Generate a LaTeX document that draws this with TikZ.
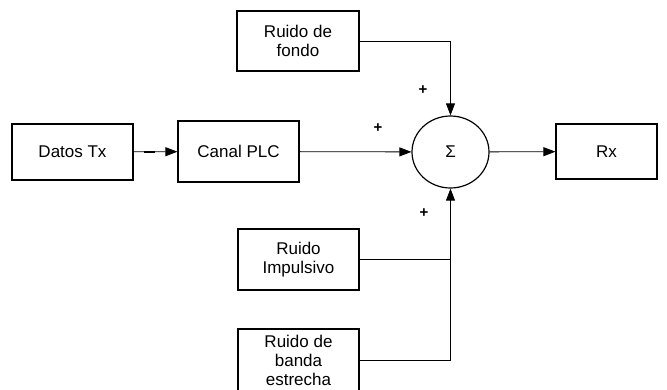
\documentclass[tikz,border=0pt]{standalone}
\usepackage{fontspec}
\setmainfont{Liberation Sans}
\usetikzlibrary{arrows.meta,shapes.geometric,calc}
\begin{document}
\begin{tikzpicture}[x=1pt,y=-1pt,
  blockbox/.style={draw,line width=1.2pt,align=center,inner sep=0pt,
    font=\fontsize{17}{19.5}\selectfont},
  sumnode/.style={draw,ellipse,line width=1.2pt,minimum width=77pt,minimum height=72pt,inner sep=0pt,
    font=\fontsize{17}{19.5}\selectfont},
  conn/.style={line width=0.8pt,-{Triangle[length=12pt,width=9pt]}},
  plain/.style={line width=0.8pt},
  plus/.style={font=\fontsize{15}{17}\selectfont\bfseries,inner sep=0pt}]
\useasboundingbox (0,0) rectangle (667,389);
\node[blockbox,minimum width=121pt,minimum height=56pt] (datos) at (72.5,152) {Datos Tx};
\node[blockbox,minimum width=121pt,minimum height=61pt] (canal) at (238.5,151.5) {Canal PLC};
\node[blockbox,minimum width=122pt,minimum height=60pt] (fondo) at (298,41) {Ruido de\\fondo};
\node[sumnode] (sum) at (450.5,152) {Σ};
\node[blockbox,minimum width=101pt,minimum height=55pt] (rx) at (606.5,151.5) {Rx};
\node[blockbox,minimum width=121pt,minimum height=61pt] (imp) at (298.5,259.5) {Ruido\\Impulsivo};
\node[blockbox,minimum width=121pt,minimum height=62pt,font=\fontsize{17}{19}\selectfont] (banda) at (298.5,360) {Ruido de\\banda\\estrecha};
\node[plus] (p1) at (423,90) {+};
\node[plus] (p2) at (378,128) {+};
\node[plus] (p3) at (424,213) {+};
\draw[conn] (datos) -- (canal);
\draw[line width=2pt] ($(datos.east)+(10,0)$) -- ($(datos.east)+(21,0)$);
\draw[conn] (canal) -- (sum);
\draw[conn] (fondo.east) -| (sum.north);
\draw[conn] (sum) -- (rx);
\draw[conn] (banda.east) -| (sum.south);
\draw[plain] (imp.east) -- (imp.east -| sum.south);
\end{tikzpicture}
\end{document}
